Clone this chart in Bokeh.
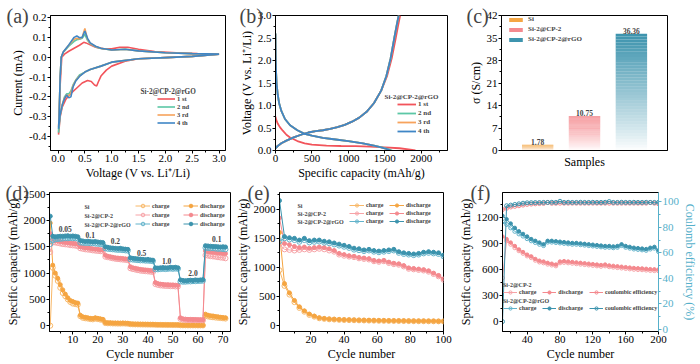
from bokeh.plotting import figure
from bokeh.models import (Range1d, LinearAxis, Label, LabelSet, Legend, LegendItem,
                          ColumnDataSource, SingleIntervalTicker, FixedTicker, NumeralTickFormatter)
from bokeh.layouts import row, column
from bokeh.embed import file_html
from bokeh.resources import INLINE

SERIF = "Liberation Serif"
RED, GREEN, ORANGE, BLUE = "#F2545B", "#5CC7A6", "#F7A35C", "#3F86C6"
C_SI, C_CP, C_RGO = "#F5A541", "#F4898E", "#3C93AD"
C_SI_L, C_CP_L, C_RGO_L = "#F8B868", "#F7A3A7", "#62B3CB"
CE_AXIS = "#56B0CA"

# ---------------- (a) cyclic voltammetry ----------------
cv_labels = ["1 st", "2 nd", "3 rd", "4 th"]
cv1_v = [3.0, 2.5, 2.0, 1.5, 1.25, 1.0, 0.9, 0.8, 0.75, 0.72, 0.68, 0.62, 0.55, 0.45, 0.35, 0.25, 0.15, 0.08, 0.04, 0.01,
         0.02, 0.04, 0.07, 0.12, 0.2, 0.3, 0.4, 0.48, 0.52, 0.6, 0.7, 0.85, 1.0, 1.15, 1.3, 1.5, 1.8, 2.2, 2.6, 3.0]
cv1_i = [0.015, 0.004, -0.002, -0.008, -0.02, -0.045, -0.065, -0.095, -0.125, -0.145, -0.14, -0.122, -0.117, -0.13,
         -0.155, -0.18, -0.21, -0.25, -0.3, -0.39, -0.32, -0.14, 0.0, 0.015, 0.03, 0.045, 0.06, 0.075, 0.072, 0.062,
         0.05, 0.042, 0.042, 0.05, 0.05, 0.04, 0.028, 0.022, 0.018, 0.016]
cvn_v = [3.0, 2.5, 2.0, 1.5, 1.0, 0.8, 0.6, 0.5, 0.4, 0.33, 0.28, 0.24, 0.2, 0.16, 0.12, 0.08, 0.04, 0.01,
         0.02, 0.04, 0.06, 0.1, 0.2, 0.3, 0.35, 0.4, 0.45, 0.5, 0.55, 0.6, 0.7, 0.8, 1.0, 1.25, 1.5, 2.0, 2.5, 3.0]
cv2_i = [0.015, 0.004, -0.002, -0.008, -0.025, -0.045, -0.062, -0.075, -0.09, -0.115, -0.14, -0.17, -0.185, -0.185,
         -0.2, -0.24, -0.29, -0.38, -0.3, -0.1, 0.0, 0.025, 0.055, 0.08, 0.088, 0.09, 0.095, 0.115, 0.085, 0.068,
         0.052, 0.044, 0.036, 0.04, 0.032, 0.022, 0.018, 0.016]
cv3_i = [0.015, 0.004, -0.002, -0.008, -0.025, -0.045, -0.062, -0.075, -0.095, -0.118, -0.145, -0.18, -0.195, -0.19,
         -0.205, -0.24, -0.29, -0.35, -0.3, -0.1, 0.0, 0.027, 0.06, 0.09, 0.095, 0.092, 0.1, 0.145, 0.09, 0.07,
         0.054, 0.045, 0.036, 0.04, 0.032, 0.022, 0.018, 0.016]
cv4_i = [0.015, 0.004, -0.002, -0.008, -0.025, -0.045, -0.062, -0.075, -0.097, -0.12, -0.15, -0.2, -0.205, -0.19,
         -0.21, -0.24, -0.29, -0.36, -0.3, -0.1, 0.0, 0.028, 0.062, 0.1, 0.107, 0.098, 0.1, 0.132, 0.095, 0.072,
         0.055, 0.045, 0.036, 0.04, 0.032, 0.022, 0.018, 0.016]

# ---------------- (b) charge / discharge profiles ----------------
dis1_cap = [0, 10, 30, 60, 100, 150, 200, 300, 400, 500, 700, 900, 1100, 1300, 1500, 1700, 1850, 1920]
dis1_v = [0.75, 0.68, 0.6, 0.52, 0.44, 0.35, 0.29, 0.21, 0.16, 0.13, 0.11, 0.1, 0.095, 0.085, 0.07, 0.05, 0.02, 0.0]
dis2_cap = [0, 3, 8, 15, 30, 50, 80, 130, 200, 300, 400, 500, 650, 800, 1000, 1200, 1350, 1460, 1550, 1600]
disn_cap = [0, 3, 8, 15, 30, 50, 80, 130, 200, 300, 400, 500, 650, 800, 1000, 1200, 1350, 1450, 1530, 1580]
disn_v = [2.6, 2.1, 1.75, 1.5, 1.25, 1.05, 0.88, 0.7, 0.56, 0.45, 0.37, 0.33, 0.28, 0.25, 0.21, 0.16, 0.11, 0.07, 0.03, 0.0]
chg1_cap = [0, 30, 80, 150, 250, 350, 450, 550, 650, 750, 850, 950, 1050, 1150, 1250, 1350, 1450, 1530, 1595, 1650, 1685, 1710]
chgn_cap = [0, 30, 80, 150, 250, 350, 450, 550, 650, 750, 850, 950, 1050, 1150, 1250, 1350, 1450, 1520, 1580, 1630, 1665, 1690]
chg_v = [0.05, 0.1, 0.16, 0.22, 0.29, 0.35, 0.4, 0.43, 0.45, 0.48, 0.52, 0.57, 0.64, 0.73, 0.86, 1.05, 1.33, 1.65, 2.05, 2.5, 2.8, 3.0]

# ---------------- (c) conductivity ----------------
samples = ["Si", "Si-2@CP-2", "Si-2@CP-2@rGO"]
sigma = [1.78, 10.75, 36.36]

# ---------------- (d) rate performance ----------------
d_cycles = list(range(1, 72))
d_rate_labels = ["0.05", "0.1", "0.2", "0.5", "1.0", "2.0", "0.1"]
d_rate_x = [7, 17, 27, 37.5, 47.5, 58, 67.5]
d_rate_y = [1830, 1730, 1600, 1390, 1230, 1000, 1650]
d_rgo_dis = [2080, 1700,
             1690, 1695, 1700, 1700, 1705, 1710, 1700, 1705, 1700, 1690,
             1620, 1610, 1600, 1605, 1600, 1595, 1600, 1590, 1585, 1580,
             1500, 1490, 1480, 1475, 1470, 1465, 1470, 1460, 1455, 1450,
             1290, 1280, 1275, 1270, 1265, 1260, 1255, 1260, 1250, 1245,
             1100, 1095, 1100, 1105, 1100, 1100, 1110, 1105, 1110, 1100,
             870, 860, 855, 860, 865, 860, 870, 865, 870, 875,
             1520, 1515, 1510, 1505, 1505, 1500, 1495, 1500, 1495]
d_rgo_chg = [1550, 1620,
             1640, 1645, 1650, 1655, 1660, 1660, 1665, 1660, 1660, 1655,
             1580, 1575, 1570, 1570, 1565, 1565, 1560, 1555, 1550, 1550,
             1470, 1460, 1455, 1450, 1445, 1440, 1440, 1435, 1430, 1425,
             1260, 1255, 1250, 1245, 1240, 1240, 1235, 1235, 1230, 1225,
             1070, 1070, 1075, 1080, 1075, 1080, 1085, 1080, 1085, 1080,
             840, 835, 835, 840, 840, 845, 845, 850, 850, 855,
             1480, 1475, 1470, 1470, 1465, 1460, 1460, 1455, 1450]
d_cp_dis = [1750, 1650,
            1620, 1610, 1600, 1590, 1585, 1580, 1570, 1565, 1560, 1550,
            1500, 1490, 1480, 1475, 1470, 1460, 1455, 1450, 1445, 1440,
            1340, 1320, 1310, 1300, 1290, 1285, 1280, 1275, 1270, 1265,
            1120, 1100, 1090, 1080, 1070, 1065, 1060, 1055, 1050, 1045,
            820, 800, 790, 785, 780, 780, 775, 775, 770, 770,
            150, 130, 125, 120, 120, 118, 118, 115, 115, 115,
            1420, 1410, 1400, 1395, 1390, 1385, 1380, 1375, 1370]
d_cp_chg = [1400, 1580,
            1580, 1570, 1560, 1550, 1545, 1540, 1530, 1525, 1520, 1510,
            1470, 1460, 1450, 1445, 1440, 1430, 1425, 1420, 1415, 1410,
            1310, 1300, 1290, 1280, 1270, 1265, 1260, 1255, 1250, 1245,
            1090, 1075, 1065, 1055, 1045, 1040, 1035, 1030, 1025, 1020,
            790, 775, 765, 760, 755, 755, 750, 750, 745, 745,
            130, 115, 110, 108, 106, 105, 104, 103, 102, 100,
            1340, 1330, 1320, 1315, 1310, 1300, 1295, 1290, 1280]
d_si_dis = [1950, 1150,
            1000, 900, 780, 680, 600, 530, 480, 460, 440, 430,
            200, 170, 160, 150, 140, 135, 150, 140, 130, 120,
            60, 55, 55, 50, 50, 50, 48, 50, 48, 45,
            35, 32, 30, 30, 28, 28, 26, 26, 25, 25,
            22, 20, 20, 18, 18, 18, 17, 17, 16, 16,
            12, 10, 10, 10, 9, 9, 9, 8, 8, 8,
            220, 200, 190, 185, 175, 170, 160, 155, 150]
d_si_chg = [0, 1100,
            950, 850, 720, 620, 560, 500, 450, 420, 410, 400,
            180, 150, 140, 135, 125, 120, 135, 125, 115, 110,
            50, 45, 45, 42, 42, 40, 40, 42, 40, 38,
            28, 26, 25, 24, 23, 22, 22, 21, 20, 20,
            18, 16, 16, 15, 15, 14, 14, 13, 13, 13,
            8, 7, 7, 6, 6, 6, 6, 5, 5, 5,
            190, 175, 165, 160, 155, 150, 145, 140, 135]

# ---------------- (e) cycling at fixed rate ----------------
e_cycles = list(range(1, 101, 3))
e_rgo_dis = [2150, 1530, 1510, 1500, 1470, 1500, 1460, 1470, 1470, 1450, 1440, 1420, 1400, 1380, 1360, 1330, 1320,
             1300, 1310, 1290, 1280, 1290, 1300, 1310, 1270, 1250, 1240, 1230, 1240, 1260, 1270, 1260, 1250, 1210]
e_rgo_chg = [1450, 1500, 1480, 1470, 1440, 1470, 1430, 1440, 1445, 1425, 1415, 1395, 1375, 1355, 1335, 1305, 1295,
             1280, 1290, 1270, 1260, 1270, 1280, 1290, 1250, 1230, 1220, 1210, 1220, 1240, 1250, 1240, 1230, 1190]
e_cp_dis = [1850, 1410, 1390, 1360, 1340, 1350, 1330, 1340, 1350, 1340, 1320, 1290, 1240, 1220, 1200, 1190, 1170,
            1160, 1150, 1120, 1110, 1120, 1090, 1070, 1060, 1030, 990, 980, 970, 960, 940, 900, 860, 800]
e_cp_chg = [1400, 1310, 1300, 1290, 1300, 1310, 1300, 1310, 1320, 1310, 1290, 1270, 1220, 1200, 1185, 1175, 1155,
            1145, 1135, 1105, 1095, 1105, 1075, 1055, 1045, 1015, 975, 965, 955, 945, 925, 885, 845, 785]
e_si_dis = [1600, 720, 560, 430, 320, 250, 195, 160, 130, 118, 110, 105, 100, 97, 95, 93, 90, 88, 86, 85, 83, 82,
            80, 80, 79, 78, 77, 76, 75, 75, 74, 73, 72, 72]
e_si_chg = [950, 680, 530, 400, 300, 235, 180, 150, 122, 112, 104, 100, 95, 92, 90, 88, 86, 84, 82, 81, 79, 78,
            77, 76, 75, 74, 73, 72, 71, 71, 70, 70, 69, 68]

# ---------------- (f) long cycling + coulombic efficiency ----------------
f_cycles = list(range(10, 201, 5))
f_rgo_dis = [1220, 1180, 1130, 1080, 1040, 1010, 980, 950, 930, 910, 890, 930, 930, 925, 920, 915, 910, 905, 905,
             900, 895, 890, 885, 880, 875, 870, 870, 865, 870, 890, 870, 860, 850, 845, 840, 835, 850, 860, 820]
f_rgo_chg = [1150, 1120, 1080, 1040, 1010, 985, 955, 930, 910, 890, 875, 915, 915, 910, 905, 900, 895, 890, 890,
             885, 880, 875, 870, 865, 860, 855, 855, 850, 855, 875, 855, 845, 835, 830, 825, 820, 835, 845, 805]
f_cp_dis = [980, 950, 910, 870, 830, 800, 770, 750, 720, 700, 690, 675, 665, 655, 690, 695, 690, 685, 680, 675,
            670, 665, 660, 655, 650, 655, 645, 640, 635, 630, 625, 620, 615, 612, 610, 606, 602, 600, 598]
f_cp_chg = [500, 930, 890, 850, 815, 785, 755, 735, 705, 685, 675, 660, 650, 640, 675, 680, 675, 670, 665, 660,
            655, 650, 645, 640, 635, 640, 630, 625, 620, 615, 610, 605, 600, 597, 595, 591, 587, 585, 583]
f_rgo_ce = [6, 97, 97.5, 98, 98.5, 99, 99.3, 99.4, 99.5, 99.5, 99.6, 99.6, 99.7, 99.6, 100.5, 99.6, 99.7, 99.6,
            99.6, 99.7, 99.6, 99.6, 99.7, 99.6, 99.6, 99.7, 100.3, 99.6, 99.6, 99.7, 99.6, 99.6, 99.7, 99.6, 99.6,
            99.7, 99.6, 99.6, 99.7]
f_cp_ce = [94, 95, 96, 96.5, 97, 97.5, 98, 98.3, 98.5, 98.7, 98.8, 99.5, 98.9, 98.9, 99, 99, 99, 99, 99, 99,
           99, 99, 99, 99, 99, 99, 99, 99, 99, 99, 99, 99, 99, 99, 99, 99, 99.5, 99, 98.5]


def mkfig(w, h, xr, yr, mb, letter, letter_dx):
    p = figure(width=w, height=h, x_range=Range1d(*xr), y_range=Range1d(*yr),
               output_backend="svg", toolbar_location=None,
               min_border_left=mb[0], min_border_right=mb[1], min_border_top=mb[2], min_border_bottom=mb[3])
    p.xgrid.visible = False
    p.ygrid.visible = False
    p.outline_line_color = "black"
    p.outline_line_alpha = 1.0
    p.outline_line_width = 1
    p.background_fill_color = "white"
    p.border_fill_color = "white"
    # panel letter drawn as the (zero-height) title so that it is not clipped by the frame
    p.title.text = letter
    p.title.text_font = SERIF
    p.title.text_font_size = "20px"
    p.title.text_font_style = "normal"
    p.title.align = "left"
    p.title.vertical_align = "middle"
    p.title.standoff = -24
    p.title.offset = letter_dx
    return p


def style_axis(ax, color="black", tick_size="11px", label_size="12px"):
    ax.major_label_text_font = SERIF
    ax.major_label_text_font_size = tick_size
    ax.major_label_text_color = color
    ax.axis_label_text_font = SERIF
    ax.axis_label_text_font_size = label_size
    ax.axis_label_text_font_style = "normal"
    ax.axis_label_text_color = color
    ax.axis_line_color = color
    ax.major_tick_line_color = color
    ax.minor_tick_line_color = color
    ax.major_tick_in = 0
    ax.major_tick_out = 3
    ax.minor_tick_in = 0
    ax.minor_tick_out = 2
    ax.major_label_standoff = 1
    ax.axis_label_standoff = 1


def small_legend(items, loc, size="7px", gh=7, gw=18, spacing=1, orientation="vertical"):
    return Legend(items=items, location=loc, orientation=orientation, background_fill_alpha=0,
                  border_line_color=None, label_text_font=SERIF, label_text_font_size=size,
                  label_text_font_style="bold", glyph_height=gh, glyph_width=gw, label_height=gh,
                  label_width=6, spacing=spacing, padding=0, margin=0, label_standoff=2)


def text_label(p, x, y, text, size="7px"):
    p.add_layout(Label(x=x, y=y, x_units="screen", y_units="screen", text=text, text_font=SERIF,
                       text_font_size=size, text_font_style="bold",
                       text_baseline="middle", text_align="left"))


# ======== (a) ========
pa = mkfig(236, 182, (-0.14, 3.12), (-0.47, 0.21), (50, 11, 15, 30), "(a)", -44)
pa.xaxis.ticker = SingleIntervalTicker(interval=0.5, num_minor_ticks=2)
pa.yaxis.ticker = SingleIntervalTicker(interval=0.1, num_minor_ticks=2)
pa.xaxis.formatter = NumeralTickFormatter(format="0.0")
pa.yaxis.formatter = NumeralTickFormatter(format="0.0")
pa.xaxis.axis_label = "Voltage (V vs. Li\u207A/Li)"
pa.yaxis.axis_label = "Current (mA)"
for ax in pa.axis:
    style_axis(ax)
ra = []
for iv, ii, col in [(cv1_v, cv1_i, RED), (cvn_v, cv2_i, GREEN), (cvn_v, cv3_i, ORANGE), (cvn_v, cv4_i, BLUE)]:
    ra.append(pa.line(iv, ii, line_color=col, line_width=1.6))
pa.add_layout(small_legend([LegendItem(label=l, renderers=[r]) for l, r in zip(cv_labels, ra)], (107, 24),
                           size="6.5px", gh=7, gw=18, spacing=1))
text_label(pa, 90, 59, "Si-2@CP-2@rGO", size="7.2px")

# ======== (b) ========
pb = mkfig(229, 182, (0, 2360), (0, 3.0), (38, 18, 13, 29), "(b)", -36)
pb.xaxis.ticker = SingleIntervalTicker(interval=500, num_minor_ticks=2)
pb.yaxis.ticker = SingleIntervalTicker(interval=0.5, num_minor_ticks=2)
pb.yaxis.formatter = NumeralTickFormatter(format="0.0")
pb.xaxis.axis_label = "Specific capacity (mAh/g)"
pb.yaxis.axis_label = "Voltage (V vs. Li\u207A/Li)"
for ax in pb.axis:
    style_axis(ax)
rb = []
for dc, dv, chc, col in [(dis1_cap, dis1_v, chg1_cap, RED), (dis2_cap, disn_v, chgn_cap, GREEN),
                         (disn_cap, disn_v, chgn_cap, ORANGE), (disn_cap, disn_v, chgn_cap, BLUE)]:
    r = pb.line(dc, dv, line_color=col, line_width=1.8)
    pb.line(chc, chg_v, line_color=col, line_width=1.8)
    rb.append(r)
pb.add_layout(small_legend([LegendItem(label=l, renderers=[r]) for l, r in zip(cv_labels, rb)], (122, 15),
                           size="7px", gh=8, gw=19, spacing=1))
text_label(pb, 109, 54, "Si-2@CP-2@rGO", size="7px")

# ======== (c) ========
pc = mkfig(235, 182, (0.23, 3.77), (0, 42), (29, 33, 15, 28), "(c)", -35)
pc.xaxis.ticker = FixedTicker(ticks=[])
pc.yaxis.ticker = SingleIntervalTicker(interval=7, num_minor_ticks=2)
pc.xaxis.axis_label = "Samples"
pc.yaxis.axis_label = "\u03C3 (S/cm)"
for ax in pc.axis:
    style_axis(ax)
pc.xaxis.axis_label_standoff = 4
bar_cols = [C_SI, C_CP, C_RGO]
NSLICE = 40
BW = 0.67
rc = []
for i, (val, col) in enumerate(zip(sigma, bar_cols)):
    xc = i + 1
    src = ColumnDataSource(dict(
        left=[xc - BW / 2] * NSLICE, right=[xc + BW / 2] * NSLICE,
        bottom=[val * k / NSLICE for k in range(NSLICE)],
        top=[val * (k + 1) / NSLICE for k in range(NSLICE)],
        alpha=[((k + 0.5) / NSLICE) ** 0.9 for k in range(NSLICE)]))
    rc.append(pc.quad(left="left", right="right", bottom="bottom", top="top", source=src,
                      fill_color=col, fill_alpha="alpha", line_color=None))
lab_src = ColumnDataSource(dict(x=[1, 2, 3], y=sigma, t=[f"{v:.2f}" for v in sigma]))
pc.add_layout(LabelSet(x="x", y="y", text="t", source=lab_src, text_font=SERIF, text_font_size="7.5px",
                       text_font_style="bold", text_align="center", text_baseline="bottom", y_offset=0))
pc.add_layout(Legend(items=[LegendItem(label=s, renderers=[r], index=NSLICE - 1) for s, r in zip(samples, rc)],
                     location=(6, 106), background_fill_alpha=0, border_line_color=None,
                     label_text_font=SERIF, label_text_font_size="7px", label_text_font_style="bold",
                     glyph_height=5, glyph_width=17, label_height=10, label_width=6, spacing=0,
                     padding=0, margin=0, label_standoff=4))


# ======== helper for (d)/(e) ========
def cap_series(p, x, chg, dis, col, col_l, size=5):
    l1 = p.line(x, chg, line_color=col_l, line_width=1)
    s1 = p.scatter(x, chg, marker="circle", size=size, line_color=col_l, fill_color=None, line_width=1)
    l2 = p.line(x, dis, line_color=col, line_width=1)
    s2 = p.scatter(x, dis, marker="circle", size=size - 1, line_color=col, fill_color=col, line_width=1)
    return (l1, s1), (l2, s2)


def dual_legends(p, groups, x1, x2, yb, gh):
    ch = [LegendItem(label="charge", renderers=list(g[0])) for g in groups]
    di = [LegendItem(label="discharge", renderers=list(g[1])) for g in groups]
    p.add_layout(small_legend(ch, (x1, yb), size="6px", gh=gh, gw=15, spacing=0))
    p.add_layout(small_legend(di, (x2, yb), size="6px", gh=gh, gw=15, spacing=0))


# ======== (d) ========
pd = mkfig(232, 182, (0.7, 73), (-110, 2530), (49, 2, 10, 33), "(d)", -44)
pd.xaxis.ticker = SingleIntervalTicker(interval=10, num_minor_ticks=2)
pd.yaxis.ticker = SingleIntervalTicker(interval=500, num_minor_ticks=2)
pd.xaxis.axis_label = "Cycle number"
pd.yaxis.axis_label = "Specific capacity (mAh/g)"
for ax in pd.axis:
    style_axis(ax)
gd = [cap_series(pd, d_cycles, d_si_chg, d_si_dis, C_SI, C_SI_L),
      cap_series(pd, d_cycles, d_cp_chg, d_cp_dis, C_CP, C_CP_L),
      cap_series(pd, d_cycles, d_rgo_chg, d_rgo_dis, C_RGO, C_RGO_L)]
rate_src = ColumnDataSource(dict(x=d_rate_x, y=d_rate_y, t=d_rate_labels))
pd.add_layout(LabelSet(x="x", y="y", text="t", source=rate_src, text_font=SERIF, text_font_size="7.5px",
                       text_font_style="bold", text_align="center", text_baseline="middle"))
dual_legends(pd, gd, 86, 134, 103, 9)
for k, nm in enumerate(samples):
    text_label(pd, 35, 125 - 9 * k, nm, size="6px")

# ======== (e) ========
pe = mkfig(221, 182, (1, 100), (-106, 2290), (38, 10, 10, 32), "(e)", -32)
pe.xaxis.ticker = SingleIntervalTicker(interval=20, num_minor_ticks=2)
pe.yaxis.ticker = SingleIntervalTicker(interval=500, num_minor_ticks=2)
pe.xaxis.axis_label = "Cycle number"
pe.yaxis.axis_label = "Specific capacity (mAh/g)"
for ax in pe.axis:
    style_axis(ax)
ge = [cap_series(pe, e_cycles, e_si_chg, e_si_dis, C_SI, C_SI_L),
      cap_series(pe, e_cycles, e_cp_chg, e_cp_dis, C_CP, C_CP_L),
      cap_series(pe, e_cycles, e_rgo_chg, e_rgo_dis, C_RGO, C_RGO_L)]
dual_legends(pe, ge, 70, 110, 106, 8)
for k, nm in enumerate(samples):
    text_label(pe, 18, 126 - 8 * k, nm, size="6px")

# ======== (f) ========
pf = mkfig(247, 182, (10, 200), (-120, 1490), (49, 35, 10, 27), "(f)", -32)
pf.extra_y_ranges = {"ce": Range1d(-1.8, 107.4)}
ce_axis = LinearAxis(y_range_name="ce", axis_label="Coulomb efficiency (%)")
pf.add_layout(ce_axis, "right")
pf.xaxis.ticker = SingleIntervalTicker(interval=40, num_minor_ticks=2)
pf.yaxis[0].ticker = SingleIntervalTicker(interval=300, num_minor_ticks=2)
ce_axis.ticker = SingleIntervalTicker(interval=20, num_minor_ticks=2)
pf.xaxis.axis_label = "Cycle number"
pf.yaxis[0].axis_label = "Specific capacity (mAh/g)"
for ax in [pf.xaxis[0], pf.yaxis[0]]:
    style_axis(ax)
style_axis(ce_axis, color=CE_AXIS)
fr = []
for chg, dis, ce, col, col_l in [(f_cp_chg, f_cp_dis, f_cp_ce, C_CP, C_CP_L),
                                 (f_rgo_chg, f_rgo_dis, f_rgo_ce, C_RGO, C_RGO_L)]:
    l1 = pf.line(f_cycles, chg, line_color=col_l, line_width=1)
    s1 = pf.scatter(f_cycles, chg, marker="circle", size=4, line_color=col_l, fill_color=None)
    l2 = pf.line(f_cycles, dis, line_color=col, line_width=1)
    s2 = pf.scatter(f_cycles, dis, marker="circle", size=3.5, line_color=col, fill_color=col)
    l3 = pf.line(f_cycles, ce, line_color=col, line_width=1, y_range_name="ce")
    s3 = pf.scatter(f_cycles, ce, marker="circle", size=4, line_color=col, fill_color=None, y_range_name="ce")
    fr.append([(l1, s1), (l2, s2), (l3, s3)])
for k, (nm, yb) in enumerate([(samples[1], 35), (samples[2], 19)]):
    items = [LegendItem(label=t, renderers=list(rr)) for t, rr in
             zip(["charge", "discharge", "coulombic efficiency"], fr[k])]
    lg = small_legend(items, (1, yb), size="6px", gh=8, gw=14, spacing=6, orientation="horizontal")
    lg.title = nm
    lg.title_text_font = SERIF
    lg.title_text_font_size = "6px"
    lg.title_text_font_style = "bold"
    lg.title_standoff = 0
    pf.add_layout(lg)

layout = column(row(pa, pb, pc), row(pd, pe, pf))
open("out.html", "w").write(file_html(layout, INLINE))
